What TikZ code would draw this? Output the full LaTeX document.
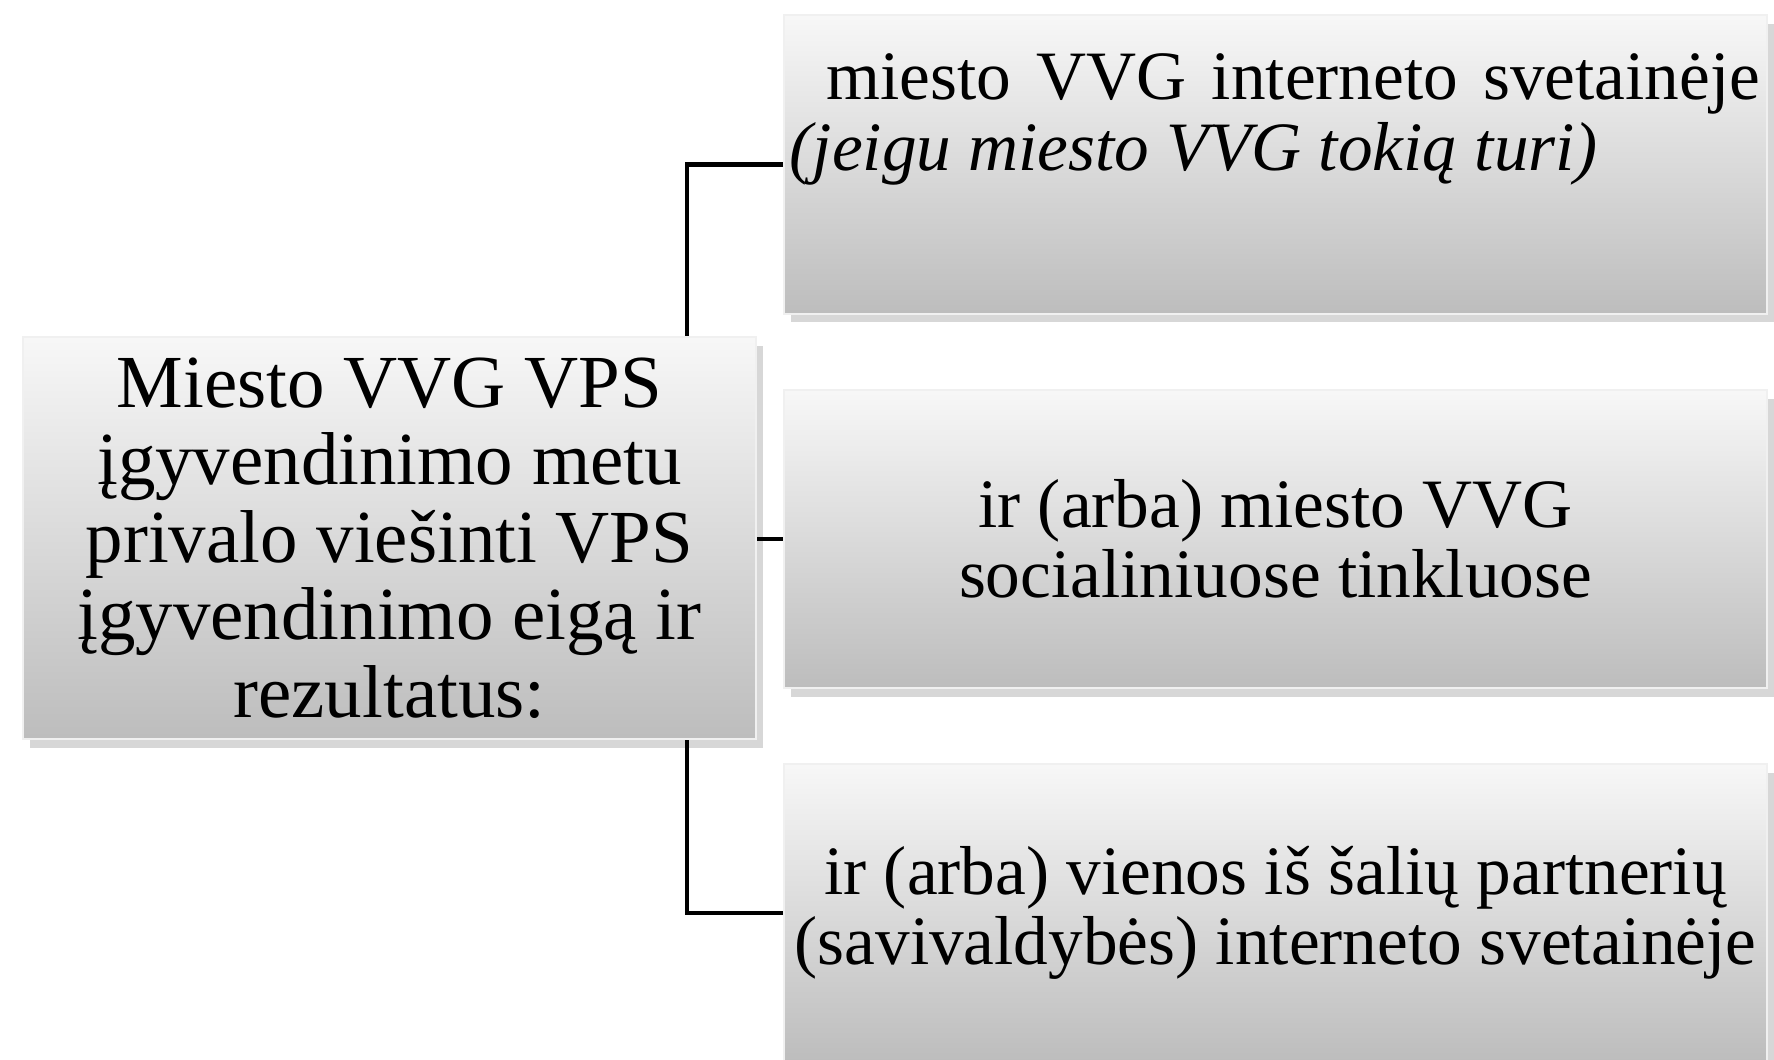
\documentclass[tikz,border=0pt]{standalone}
\usepackage{fontspec}
\setmainfont{Liberation Serif}
\usetikzlibrary{shadows}

\begin{document}
\begin{tikzpicture}[x=0.01cm,y=-0.01cm,
        panel/.style={shape=rectangle, inner sep=0pt, top color=black!3, bottom color=black!26,
            draw=white!70!black!20, line width=0.6pt,
            drop shadow={shadow xshift=2pt, shadow yshift=-2.5pt, opacity=0.35, fill=black!45}},
        bigtxt/.style={align=center, font=\fontsize{21.3}{22}\selectfont},
        smalltxt/.style={align=center, font=\fontsize{19.7}{20}\selectfont},
        conn/.style={line width=1.2pt}]
        \useasboundingbox (0,0) rectangle (1774,1059);
        \coordinate (trunk) at (687,0);
        \node[panel, minimum width=7.33cm, minimum height=4.02cm, bigtxt] (main) at (389.5,538)
            {Miesto VVG VPS\\ įgyvendinimo metu\\ privalo viešinti VPS\\ įgyvendinimo eigą ir\\ rezultatus:};
        \node[panel, minimum width=9.83cm, minimum height=2.98cm] (web) at (1275.5,164.5) {};
        \node[panel, minimum width=9.83cm, minimum height=2.98cm, smalltxt] (social) at (1275.5,539)
            {ir (arba) miesto VVG\\ socialiniuose tinkluose};
        \node[panel, minimum width=9.83cm, minimum height=2.98cm, smalltxt] (partner) at (1275.5,913)
            {ir (arba) vienos iš šalių partnerių\\ (savivaldybės) interneto svetainėje};
        \node[anchor=base west, inner sep=0pt, align=left, font=\fontsize{19.7}{20}\selectfont] (webtxt) at (789,170)
            {\hspace*{0.37cm}\makebox[9.33cm][s]{miesto VVG interneto svetainėje}\\ \textit{(jeigu miesto VVG tokią turi)}};
        \draw[conn] (main.north -| trunk) |- (web.west);
        \draw[conn] (social.west -| main.east) -- (social.west);
        \draw[conn] (main.south -| trunk) |- (partner.west);
    \end{tikzpicture}
\end{document}
